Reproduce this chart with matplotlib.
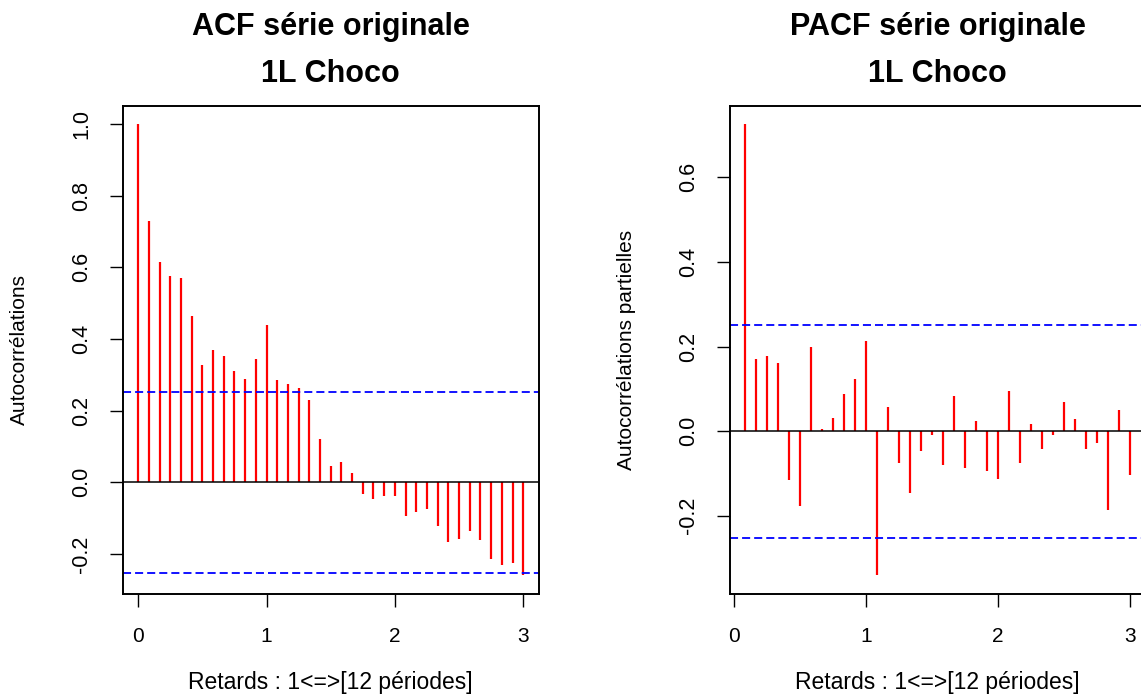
import numpy as np
import matplotlib
matplotlib.use("Agg")
import matplotlib.pyplot as plt

plt.rcParams['font.family'] = ['Liberation Sans', 'DejaVu Sans']
plt.rcParams['lines.scale_dashes'] = False

# ---- data ----
acf_values = [1.0, 0.730, 0.614, 0.577, 0.570, 0.463, 0.328, 0.370, 0.352, 0.312,
              0.289, 0.345, 0.439, 0.285, 0.274, 0.264, 0.231, 0.121, 0.045, 0.056,
              0.026, -0.034, -0.048, -0.037, -0.039, -0.093, -0.082, -0.074, -0.123,
              -0.166, -0.158, -0.137, -0.162, -0.213, -0.231, -0.224, -0.260]
acf_lags = np.arange(len(acf_values)) / 12.0

pacf_values = [0.726, 0.171, 0.177, 0.161, -0.116, -0.177, 0.198, 0.004, 0.031, 0.087,
               0.124, 0.214, -0.341, 0.057, -0.075, -0.147, -0.047, -0.008, -0.079, 0.084,
               -0.088, 0.025, -0.094, -0.113, 0.094, -0.076, 0.017, -0.042, -0.010, 0.069,
               0.029, -0.042, -0.029, -0.187, 0.050, -0.104]
pacf_lags = np.arange(1, len(pacf_values) + 1) / 12.0

conf_limit = 0.252
x_ticks = [0, 1, 2, 3]
acf_yticks = [-0.2, 0.0, 0.2, 0.4, 0.6, 0.8, 1.0]
pacf_yticks = [-0.2, 0.0, 0.2, 0.4, 0.6]

titles = ["ACF série originale", "PACF série originale"]
subtitle = "1L Choco"
xlabel = "Retards : 1<=>[12 périodes]"
ylabels = ["Autocorrélations", "Autocorrélations partielles"]

W, H = 1141, 697
fig = plt.figure(figsize=(W / 100, H / 100), dpi=100)

def px_axes(left, top, right, bottom):
    return fig.add_axes([left / W, 1 - bottom / H, (right - left) / W, (bottom - top) / H])

def r_range(vals):
    lo, hi = min(vals), max(vals)
    ext = 0.04 * (hi - lo)
    return lo - ext, hi + ext

axes = [px_axes(122.7, 106, 538.7, 593.5), px_axes(729.6, 106, 1145.6, 593.5)]
datasets = [(acf_lags, acf_values, acf_yticks), (pacf_lags, pacf_values, pacf_yticks)]

for i, (ax, (lags, vals, yt)) in enumerate(zip(axes, datasets)):
    ax.vlines(lags, 0, vals, colors='#ff0000', linewidth=1.6)
    ax.axhline(0, color='black', linewidth=1.1)
    ax.axhline(conf_limit, color='#0000ff', linewidth=1.3, linestyle=(0, (5.8, 2.9)))
    ax.axhline(-conf_limit, color='#0000ff', linewidth=1.3, linestyle=(0, (5.8, 2.9)))
    ax.set_xlim(*r_range(list(lags)))
    ax.set_ylim(*r_range(list(vals) + [conf_limit, -conf_limit]))
    ax.set_xticks(x_ticks)
    ax.set_xticklabels([str(t) for t in x_ticks])
    ax.set_yticks(yt)
    ax.set_yticklabels([f"{t:.1f}" for t in yt], rotation=90, va='center')
    ax.tick_params(axis='x', length=9.4, width=1.0, pad=15, labelsize=15)
    ax.tick_params(axis='y', length=9.4, width=1.0, pad=12.5, labelsize=15.5)
    for s in ax.spines.values():
        s.set_linewidth(1.4)
    ax.set_xlabel(xlabel, fontsize=16.5)
    ax.xaxis.set_label_coords(0.5, (593.5 - 683) / 487.5)
    ax.xaxis.label.set_va('center')
    ax.set_ylabel(ylabels[i], fontsize=15)
    ax.yaxis.set_label_coords(-0.247, 0.5)
    ax.yaxis.label.set_va('center')
    pos = ax.get_position()
    cx = pos.x0 + pos.width / 2
    fig.text(cx, 1 - 27 / H, titles[i], ha='center', va='center', fontsize=22, fontweight='bold')
    fig.text(cx, 1 - 74 / H, subtitle, ha='center', va='center', fontsize=22, fontweight='bold')

fig.savefig("out.png", dpi=100)
